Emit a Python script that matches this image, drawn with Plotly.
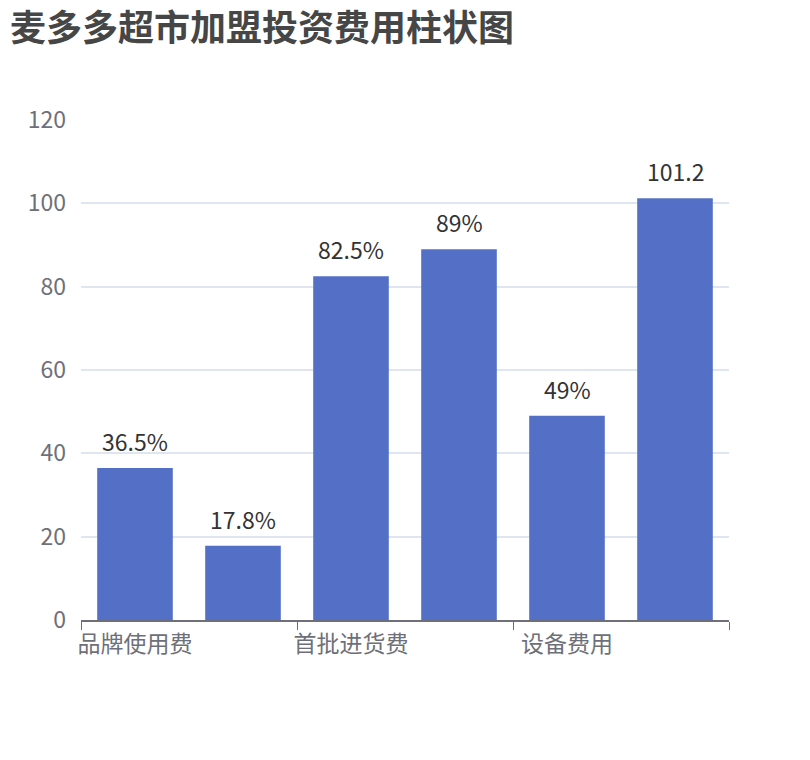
import plotly.graph_objects as go

# data
categories = ['品牌使用费', '加盟费', '首批进货费', '装修费', '设备费用', '其他费用']
values = [36.5, 17.8, 82.5, 89, 49, 101.2]
value_labels = ['36.5%', '17.8%', '82.5%', '89%', '49%', '101.2']
y_ticks = [0, 20, 40, 60, 80, 100, 120]

FONT = 'Noto Sans CJK SC'
AXIS_GREY = '#6E7079'

# page body adds an 8px margin, so the figure is made 8px smaller
W, H = 802, 752

fig = go.Figure()

fig.add_trace(go.Bar(
    x=categories,
    y=values,
    marker=dict(color='#5470c6', line=dict(width=0)),
    hovertemplate='%{x}: %{y}<extra></extra>',
))

# value labels above the bars
for cat, val, lab in zip(categories, values, value_labels):
    fig.add_annotation(
        x=cat, y=val, text=lab,
        showarrow=False,
        xanchor='center', yanchor='bottom',
        yshift=8,
        font=dict(family=FONT, size=23, color='#333333'),
    )

fig.update_layout(
    width=W,
    height=H,
    title=dict(
        text='<b>麦多多超市加盟投资费用柱状图</b>',
        x=2 / W,
        xanchor='left',
        y=1 - 20 / H,
        yanchor='middle',
        font=dict(family=FONT, size=36, color='#464646'),
    ),
    font=dict(family=FONT),
    plot_bgcolor='white',
    paper_bgcolor='white',
    margin=dict(l=73, r=81, t=112, b=140),
    bargap=0.3,
    showlegend=False,
)

fig.update_xaxes(
    type='category',
    tickmode='linear',
    tick0=0,
    dtick=2,
    tickson='boundaries',
    tickangle=0,
    ticks='outside',
    ticklen=8,
    tickcolor=AXIS_GREY,
    showline=True,
    linecolor=AXIS_GREY,
    linewidth=1.5,
    showgrid=False,
    ticklabelstandoff=3,
    tickfont=dict(family=FONT, size=23, color=AXIS_GREY),
)

fig.update_yaxes(
    range=[0, 120],
    tickvals=y_ticks,
    showgrid=True,
    gridcolor='#E0E6F1',
    gridwidth=1.5,
    zeroline=False,
    showline=False,
    ticks='',
    ticklabelstandoff=14,
    tickfont=dict(family=FONT, size=23, color=AXIS_GREY),
)

fig.write_html('out.html')
